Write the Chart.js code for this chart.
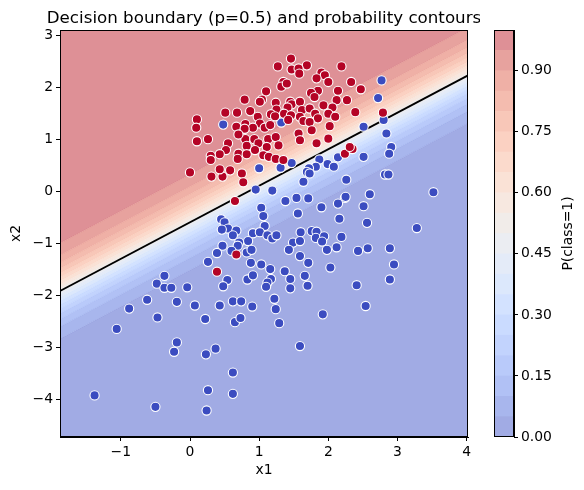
<!DOCTYPE html>
<html><head><meta charset="utf-8">
<script src="https://cdn.jsdelivr.net/npm/chart.js@4.4.0/dist/chart.umd.min.js"></script>
<style>
html,body{margin:0;padding:0;background:#fff;}
#wrap{position:relative;width:584px;height:490px;overflow:hidden;}
#main{position:absolute;left:0;top:0;}
#cbar{position:absolute;left:480px;top:0;}
</style></head><body>
<div id="wrap">
<canvas id="main" width="480" height="490"></canvas>
<canvas id="cbar" width="104" height="490"></canvas>
</div>
<script>
// ---------- data ----------
const titleText = 'Decision boundary (p=0.5) and probability contours';
const xLabel = 'x1';
const yLabel = 'x2';
const cbLabel = 'P(class=1)';

const xRange = [-1.88, 4.02];
const yRange = [-4.73, 3.10];
const xTicks = [-1, 0, 1, 2, 3, 4];
const yTicks = [-4, -3, -2, -1, 0, 1, 2, 3];
const cbTicks = [0, 0.15, 0.30, 0.45, 0.60, 0.75, 0.90];
const levels = [0,0.05,0.10,0.15,0.20,0.25,0.30,0.35,0.40,0.45,0.50,0.55,0.60,0.65,0.70,0.75,0.80,0.85,0.90,0.95,1.0];

// logistic model: logit = coef[0]*x1 + coef[1]*x2 + intercept
const coef = [-2.25, 3.2];
const intercept = 1.92;

const blueX = [-1.38,-0.50,0.24,0.26,0.62,0.62,-0.19,-0.23,0.23,0.37,1.59,-0.37,-0.48,-0.37,-0.27,-0.04,-0.62,-0.19,-0.88,-0.47,-1.06,0.54,0.48,0.83,0.91,1.17,1.12,1.10,1.45,1.45,0.07,0.43,0.62,0.74,0.90,1.22,1.24,0.22,0.65,0.73,1.29,
1.38,1.03,1.06,0.45,0.50,0.55,0.46,0.67,0.62,1.08,0.91,1.01,1.12,1.19,1.25,0.84,0.71,0.69,0.47,1.49,1.43,0.39,0.60,0.82,0.89,0.26,0.88,1.03,1.16,1.37,
1.71,2.24,2.60,2.14,2.51,1.90,1.56,2.16,2.56,1.76,1.83,1.60,1.59,1.82,1.94,1.91,2.19,2.12,1.98,2.43,2.57,2.89,1.59,1.71,2.03,2.95,1.66,2.89,2.41,1.70,
3.52,3.28,
2.51,2.84,2.91,2.88,2.51,2.14,1.87,1.99,2.08,1.82,1.72,1.69,1.73,2.82,2.87,1.64,2.26,2.25,1.54,
2.77,2.72,2.80,
0.48,1.32,1.00,1.31,1.47,1.19,0.95,
1.92,2.54];
const blueY = [-3.93,-4.15,-4.22,-3.83,-3.90,-3.49,-2.91,-3.09,-3.14,-3.03,-2.98,-1.63,-1.78,-1.86,-1.86,-1.85,-2.09,-2.13,-2.26,-2.43,-2.65,-1.71,-1.83,-1.70,-1.62,-1.69,-1.76,-1.84,-1.69,-1.87,-2.20,-2.20,-2.12,-2.12,-2.22,-2.07,-2.27,-2.46,-2.52,-2.44,-2.54,
-0.19,-0.32,-0.48,-0.54,-0.60,-0.72,-0.74,-0.76,-0.85,-0.67,-0.81,-0.79,-0.85,-0.91,-0.85,-0.96,-0.99,-1.05,-1.05,-0.99,-1.13,-1.19,-1.15,-1.18,-1.13,-1.36,-1.38,-1.41,-1.50,-1.54,
-0.14,-0.13,-0.06,-0.24,-0.29,-0.31,-0.43,-0.53,-0.61,-0.77,-0.78,-0.79,-0.96,-0.90,-0.87,-0.97,-0.88,-1.08,-1.13,-1.15,-1.10,-1.10,-1.25,-1.38,-1.47,-1.41,-1.63,-1.70,-1.81,-1.82,
-0.02,-0.71,
1.24,1.11,0.85,0.72,0.66,0.65,0.61,0.52,0.47,0.47,0.44,0.37,0.34,0.32,0.32,0.18,0.22,-0.11,-0.13,
2.13,1.79,1.37,
1.28,1.32,0.44,0.45,0.54,0.01,0.03,
-2.37,-2.21];

const redX = [1.46,1.27,1.47,1.35,1.32,1.40,1.10,1.04,1.01,0.79,1.24,1.45,1.47,1.25,1.41,0.87,0.68,0.51,0.98,1.17,1.23,1.36,1.46,1.42,0.10,0.09,0.80,0.67,1.01,0.91,1.08,1.16,0.79,
0.26,0.10,0.80,0.93,1.13,1.24,0.70,0.55,0.82,0.99,1.11,1.28,0.52,0.43,0.30,0.30,0.70,0.82,0.94,1.06,1.14,1.24,1.35,0.69,0.00,0.31,0.47,0.43,0.58,0.75,0.77,
1.69,2.19,1.57,1.58,1.90,1.95,1.83,2.00,2.33,2.47,2.14,1.85,1.75,2.27,2.12,1.80,1.59,1.93,2.06,1.62,1.73,1.81,2.00,2.10,1.85,1.59,1.64,1.73,2.02,1.76,2.39,2.79,
2.24,2.35,2.31,0.65,0.67,0.39,1.57,1.83,2.00,1.59];
const redY = [2.55,2.40,2.34,2.10,2.01,2.07,1.92,1.76,1.72,1.76,1.70,1.72,1.67,1.57,1.61,1.54,1.51,1.51,1.43,1.48,1.44,1.49,1.46,1.37,1.38,1.22,1.29,1.24,1.30,1.22,1.22,1.27,1.20,
1.00,0.96,1.00,1.00,1.00,1.04,1.09,0.92,0.87,0.92,0.85,0.88,0.79,0.71,0.68,0.60,0.72,0.71,0.79,0.69,0.66,0.62,0.60,0.62,0.36,0.28,0.28,0.42,0.40,0.34,0.17,
2.42,2.40,2.36,2.26,2.28,2.23,2.17,2.10,2.10,1.96,1.93,1.93,1.89,1.75,1.75,1.81,1.72,1.65,1.61,1.56,1.59,1.49,1.49,1.43,1.40,1.43,1.35,1.33,1.25,1.17,1.52,1.51,
0.72,0.81,0.85,-0.19,-1.22,-1.55,1.11,0.92,1.01,0.98];

// ---------- styling ----------
const FS = 13.9;
const ALPHA = 0.5;
Chart.defaults.font.family = "'DejaVu Sans', sans-serif";
Chart.defaults.color = '#000';

const CW = [
[0,59,76,192],[0.03125,68,90,204],[0.0625,77,104,215],[0.09375,87,117,225],[0.125,98,130,234],
[0.15625,108,142,241],[0.1875,119,154,247],[0.21875,130,165,251],[0.25,141,176,254],[0.28125,152,185,255],
[0.3125,163,194,255],[0.34375,174,201,253],[0.375,184,208,249],[0.40625,194,213,244],[0.4375,204,217,238],
[0.46875,213,219,230],[0.5,221,221,221],[0.53125,229,216,209],[0.5625,236,211,197],[0.59375,241,204,185],
[0.625,245,196,173],[0.65625,247,187,160],[0.6875,247,177,148],[0.71875,247,166,135],[0.75,244,154,123],
[0.78125,241,141,111],[0.8125,236,127,99],[0.84375,229,112,88],[0.875,222,96,77],[0.90625,213,80,66],
[0.9375,203,62,56],[0.96875,192,40,47],[1,180,4,38]];
function coolwarm(t){
  t = Math.max(0, Math.min(1, t));
  for (let i=1;i<CW.length;i++){
    if (t <= CW[i][0]) {
      const a = CW[i-1], b = CW[i];
      const f = (t - a[0])/(b[0]-a[0]);
      return [0,1,2].map(k => a[k+1] + f*(b[k+1]-a[k+1]));
    }
  }
  return CW[CW.length-1].slice(1);
}
function onWhite(c, a){
  const m = c.map(v => Math.round(255 - a*(255 - v)));
  return `rgb(${m[0]},${m[1]},${m[2]})`;
}
function rgba(c, a){ return `rgba(${Math.round(c[0])},${Math.round(c[1])},${Math.round(c[2])},${a})`; }
const bandColor = i => onWhite(coolwarm((levels[i]+levels[i+1])/2), ALPHA);
const BLUE = 'rgb(59,76,192)', RED = 'rgb(180,4,38)';
const fmt = v => (v < 0 ? '\u2212' + Math.abs(v) : String(v));

const logit = p => Math.log(p/(1-p));
const x2At = (p, x1) => (logit(p) - intercept - coef[0]*x1) / coef[1];
const lineFor = p => xRange.map(x => ({x: x, y: x2At(p, x)}));

// ---------- datasets ----------
const datasets = [];
const nL = levels.length;
for (let k = 1; k < nL-1; k++) {
  datasets.push({
    data: lineFor(levels[k]),
    fill: k === 1 ? 'start' : '-1',
    backgroundColor: bandColor(k-1),
    borderColor: rgba(coolwarm(levels[k]), 0.22), borderWidth: 0.8,
    pointRadius: 0, tension: 0, order: 10
  });
}
datasets.push({
  data: lineFor(levels[nL-2]), fill: 'end', backgroundColor: bandColor(nL-2),
  borderColor: 'rgba(0,0,0,0)', borderWidth: 0, pointRadius: 0, order: 10
});
datasets.push({
  data: lineFor(0.5), fill: false, borderColor: '#000', borderWidth: 1.8,
  pointRadius: 0, order: 5
});
datasets.push({
  data: blueX.map((x,i) => ({x: x, y: blueY[i]})), showLine: false, fill: false,
  pointRadius: 4.6, pointBorderWidth: 1.1, pointBorderColor: '#fff', pointBackgroundColor: BLUE, order: 2
});
datasets.push({
  data: redX.map((x,i) => ({x: x, y: redY[i]})), showLine: false, fill: false,
  pointRadius: 4.6, pointBorderWidth: 1.1, pointBorderColor: '#fff', pointBackgroundColor: RED, order: 1
});

const framePlugin = {
  id: 'frameTitle',
  afterDraw(chart){
    const {ctx, chartArea: a} = chart;
    ctx.save();
    ctx.strokeStyle = '#000'; ctx.lineWidth = 1;
    ctx.strokeRect(Math.round(a.left)+0.5, Math.round(a.top)+0.5, Math.round(a.right-a.left)-1, Math.round(a.bottom-a.top)-1);
    if (chart.canvas.id === 'main') {
      ctx.fillStyle = '#000';
      ctx.font = "16.7px 'DejaVu Sans'";
      ctx.textAlign = 'center'; ctx.textBaseline = 'alphabetic';
      ctx.fillText(titleText, (a.left + a.right)/2, a.top - 7);
    } else {
      ctx.fillStyle = '#000';
      ctx.font = FS + "px 'DejaVu Sans'";
      ctx.translate(a.right + 54, (a.top + a.bottom)/2);
      ctx.rotate(-Math.PI/2);
      ctx.textAlign = 'center'; ctx.textBaseline = 'middle';
      ctx.fillText(cbLabel, 0, 0);
    }
    ctx.restore();
  }
};

const gridOpts = {display: true, drawOnChartArea: false, drawTicks: true, tickLength: 4, color: '#000', tickColor: '#000', tickWidth: 1};

new Chart(document.getElementById('main'), {
  type: 'line',
  data: {datasets: datasets},
  options: {
    responsive: false, animation: false, devicePixelRatio: 1,
    layout: {padding: {top: 30, right: 12, left: 0, bottom: 0}},
    plugins: {legend: {display: false}, tooltip: {enabled: false}, title: {display: false}},
    scales: {
      x: {
        type: 'linear', min: xRange[0], max: xRange[1], offset: false,
        afterBuildTicks: s => { s.ticks = xTicks.map(v => ({value: v})); },
        afterFit: s => { s.height = 53; },
        ticks: {callback: v => fmt(v), font: {size: FS}, padding: 3, maxRotation: 0},
        grid: gridOpts,
        border: {display: true, color: '#000', width: 1},
        title: {display: true, text: xLabel, font: {size: FS}, padding: {top: 0, bottom: 11}}
      },
      y: {
        type: 'linear', min: yRange[0], max: yRange[1], offset: false,
        afterBuildTicks: s => { s.ticks = yTicks.map(v => ({value: v})); },
        afterFit: s => { s.width = 60; },
        ticks: {callback: v => fmt(v), font: {size: FS}, padding: 3},
        grid: gridOpts,
        border: {display: true, color: '#000', width: 1},
        title: {display: true, text: yLabel, font: {size: FS}, padding: {top: 8, bottom: 0}}
      }
    }
  },
  plugins: [framePlugin]
});

// ---------- colorbar ----------
const cbSets = [];
for (let i = 0; i < nL-1; i++) {
  cbSets.push({data: [levels[i+1]-levels[i]], backgroundColor: bandColor(i), borderWidth: 0});
}
new Chart(document.getElementById('cbar'), {
  type: 'bar',
  data: {labels: [''], datasets: cbSets},
  options: {
    responsive: false, animation: false, devicePixelRatio: 1,
    layout: {padding: {left: 14, top: 30, bottom: 53, right: 0}},
    plugins: {legend: {display: false}, tooltip: {enabled: false}},
    datasets: {bar: {barPercentage: 1, categoryPercentage: 1}},
    scales: {
      x: {display: false, stacked: true},
      y: {
        stacked: true, position: 'right', min: 0, max: 1,
        afterBuildTicks: s => { s.ticks = cbTicks.map(v => ({value: v})); },
        afterFit: s => { s.width = 70; },
        ticks: {callback: v => Number(v).toFixed(2), font: {size: FS}, padding: 3},
        grid: gridOpts,
        border: {display: true, color: '#000', width: 1}
      }
    }
  },
  plugins: [framePlugin]
});
</script>
</body></html>
